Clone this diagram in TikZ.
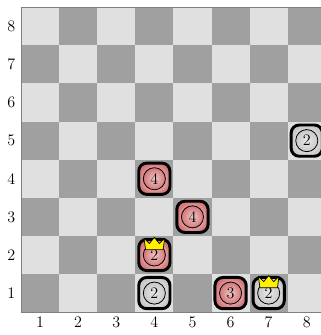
\documentclass[tikz,border=0pt]{standalone}
\usepackage{tikz}
\usetikzlibrary{calc}
\definecolor{lightsq}{RGB}{224,224,224}
\definecolor{darksq}{RGB}{160,160,160}
\definecolor{redman}{RGB}{212,118,120}
\definecolor{whiteman}{RGB}{200,200,200}
\definecolor{crown}{RGB}{255,240,0}
\tikzset{
  man/.style={line width=2.2pt, rounded corners=6pt},
  manring/.style={line width=0.6pt},
  crownshape/.style={fill=crown, draw=black, line width=0.5pt, line join=round},
  coordlabel/.style={inner sep=1pt, font=\large}
}
% \checker{name}{col}{row}{colour}{number}
\newcommand{\checker}[5]{%
  \coordinate (#1) at (#2-0.5,#3-0.5);
  \shadedraw[man, inner color=white, outer color=#4] ($(#1)+(-0.41,-0.41)$) rectangle ($(#1)+(0.41,0.41)$);
  \shadedraw[manring, inner color=#4!40, outer color=#4] (#1) circle (0.29);
  \node[font=\large] (#1-n) at (#1) {#5};
}
\newcommand{\crowned}[1]{%
  \filldraw[crownshape] ($(#1)+(-0.23,0.14)$) -- ($(#1)+(-0.27,0.44)$) -- ($(#1)+(-0.13,0.30)$)
    -- ($(#1)+(0,0.46)$) -- ($(#1)+(0.13,0.30)$) -- ($(#1)+(0.27,0.44)$) -- ($(#1)+(0.23,0.14)$) -- cycle;
}

\begin{document}
\begin{tikzpicture}
\useasboundingbox (-0.55,-0.6) rectangle (7.85,8.19);
% board
\foreach \c in {1,...,8} {
  \foreach \r in {1,...,8} {
    \pgfmathparse{int(mod(\c+\r,2))}
    \ifnum\pgfmathresult=0
      \fill[darksq] (\c-1,\r-1) rectangle (\c,\r);
    \else
      \fill[lightsq] (\c-1,\r-1) rectangle (\c,\r);
    \fi
  }
}
\draw[gray, line width=0.6pt] (0,0) rectangle (8,8);
% coordinates
\foreach \i in {1,...,8} {
  \node[coordlabel] (col\i) at (\i-0.5,-0.27) {\i};
  \node[coordlabel] (row\i) at (-0.25,\i-0.5) {\i};
}
% pieces
\checker{w85}{8}{5}{whiteman}{2}
\checker{r44}{4}{4}{redman}{4}
\checker{r53}{5}{3}{redman}{4}
\checker{r42}{4}{2}{redman}{2}
\crowned{r42}
\checker{w41}{4}{1}{whiteman}{2}
\checker{r61}{6}{1}{redman}{3}
\checker{w71}{7}{1}{whiteman}{2}
\crowned{w71}
\end{tikzpicture}
\end{document}
